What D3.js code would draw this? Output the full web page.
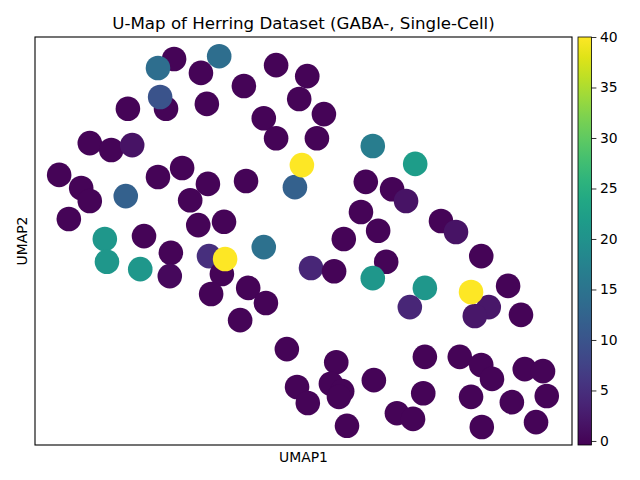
<!DOCTYPE html>
<html lang="en">
<head>
<meta charset="UTF-8">
<script src="https://cdn.jsdelivr.net/npm/d3@7"></script>
<title>umap</title>
<style>
  body { margin: 0; background: #fff; }
  text { font-family: "DejaVu Sans", sans-serif; fill: #000; }
</style>
</head>
<body>
<svg width="640" height="480"></svg>
<script>
// UMAP coordinates and cell counts
var umap1 = [2.59, 2.29, 3.43, 3.09, 4.49, 5.07, 3.89, 2.44, 2.33, 1.73,
             3.20, 4.92, 5.38, 4.26, 4.49, 5.25, 1.02, 1.42, 1.81, 6.29,
             7.08, 0.45, 0.86, 1.02, 0.63, 1.69, 2.29, 2.74, 3.22, 2.89,
             3.93, 4.84, 6.16, 6.65, 6.91, 6.07, 7.56, 7.84, 6.39, 3.04,
             3.52, 2.03, 1.30, 1.34, 1.96, 2.53, 2.51, 3.24, 3.48, 4.26,
             5.75, 8.31, 5.14, 5.57, 6.54, 6.29, 7.26, 6.98, 8.45, 8.19,
             8.81, 9.05, 3.97, 3.28, 4.30, 3.82, 4.69, 5.61, 7.26, 7.91,
             8.31, 8.51, 9.12, 9.46, 4.88, 5.51, 5.72, 5.66, 6.31, 7.23,
             8.12, 9.53, 5.08, 6.74, 7.04, 8.88, 5.81, 8.32, 9.33,
             4.97, 3.54, 8.12];
var umap2 = [9.46, 9.24, 9.53, 9.12, 9.31, 9.04, 8.80, 8.24, 8.53, 8.24,
             8.36, 8.48, 8.11, 8.01, 7.52, 7.52, 7.40, 7.23, 7.35, 7.33,
             6.89, 6.62, 6.30, 5.98, 5.54, 6.10, 6.57, 6.79, 6.40, 6.00,
             6.47, 6.32, 6.45, 6.27, 5.98, 5.71, 5.49, 5.22, 5.25, 5.39,
             5.47, 5.12, 5.05, 4.49, 4.31, 4.71, 4.14, 4.63, 4.19, 4.85,
             5.05, 4.63, 4.34, 4.26, 4.49, 4.09, 3.85, 3.38, 3.38, 3.16,
             3.90, 3.19, 3.85, 3.70, 3.48, 3.06, 2.35, 2.03, 2.16, 2.16,
             1.96, 1.62, 1.86, 1.81, 1.42, 1.50, 1.32, 1.18, 1.59, 1.27,
             1.18, 1.20, 1.03, 0.78, 0.64, 1.05, 0.47, 0.44, 0.56,
             6.86, 4.56, 3.75];
var counts = [0, 14, 14, 0, 0, 0, 0, 0, 10, 0,
              0, 0, 0, 0, 0, 0, 0, 0, 1.5, 16.5,
              22, 0, 0, 0, 0, 12, 0, 0, 0, 0,
              0, 12, 0, 0, 1.5, 0, 0, 1.5, 0, 0,
              0, 0, 21, 21, 21, 0, 0.5, 5, 0, 14.5,
              0, 0, 4, 0, 0, 21, 21, 4, 2, 2,
              0, 0, 0, 0, 0, 0, 0, 0, 0, 0,
              0, 0, 0, 0, 0, 0, 0, 0, 0, 0,
              0, 0, 0, 0, 0, 0, 0, 0, 0,
              40, 40, 40];
var cbarTicks = [0, 5, 10, 15, 20, 25, 30, 35, 40];

var svg = d3.select("svg");

var plotL = 35, plotR = 572, plotT = 37, plotB = 445;

var x = d3.scaleLinear().domain([0, 10]).range([plotL, plotR]);
var y = d3.scaleLinear().domain([0, 10]).range([plotB, plotT]);
var color = d3.scaleSequential(d3.interpolateViridis).domain([-0.4, 40]);

var points = umap1.map(function(d, i) {
    return {u: d, v: umap2[i], c: counts[i]};
});

// dots
svg.append("g")
   .selectAll("circle")
   .data(points)
   .enter().append("circle")
   .attr("cx", function(d) { return x(d.u); })
   .attr("cy", function(d) { return y(d.v); })
   .attr("r", 12.3)
   .attr("fill", function(d) { return color(d.c); });

// axes frame, no ticks
svg.append("rect")
   .attr("x", plotL).attr("y", plotT)
   .attr("width", plotR - plotL).attr("height", plotB - plotT)
   .attr("fill", "none").attr("stroke", "#000").attr("stroke-width", 1.1);

svg.append("text")
   .attr("x", (plotL + plotR) / 2).attr("y", 29)
   .attr("text-anchor", "middle")
   .style("font-size", "16.67px")
   .text("U-Map of Herring Dataset (GABA-, Single-Cell)");

svg.append("text")
   .attr("x", (plotL + plotR) / 2).attr("y", 462)
   .attr("text-anchor", "middle")
   .style("font-size", "13.9px")
   .text("UMAP1");

svg.append("text")
   .attr("transform", "translate(27," + (plotT + plotB) / 2 + ") rotate(-90)")
   .attr("text-anchor", "middle")
   .style("font-size", "13.9px")
   .text("UMAP2");

// colorbar
var cbX = 578, cbW = 13.5;
var defs = svg.append("defs");
var grad = defs.append("linearGradient")
   .attr("id", "cb").attr("x1", 0).attr("y1", 1).attr("x2", 0).attr("y2", 0);
d3.range(0, 1.0001, 0.05).forEach(function(t) {
    grad.append("stop").attr("offset", t).attr("stop-color", d3.interpolateViridis(t));
});
svg.append("rect")
   .attr("x", cbX).attr("y", plotT)
   .attr("width", cbW).attr("height", plotB - plotT)
   .attr("fill", "url(#cb)")
   .attr("stroke", "#000").attr("stroke-width", 0.8);

var cy = d3.scaleLinear().domain([-0.4, 40]).range([plotB, plotT]);
var cbAxis = svg.append("g")
   .attr("transform", "translate(" + (cbX + cbW) + ",0)")
   .call(d3.axisRight(cy).tickValues(cbarTicks).tickSize(4.9).tickPadding(3.5));
cbAxis.select(".domain").remove();
cbAxis.selectAll("line").attr("stroke-width", 0.8);
cbAxis.selectAll("text")
   .style("font-family", "DejaVu Sans, sans-serif")
   .style("font-size", "13.9px");
</script>
</body>
</html>
